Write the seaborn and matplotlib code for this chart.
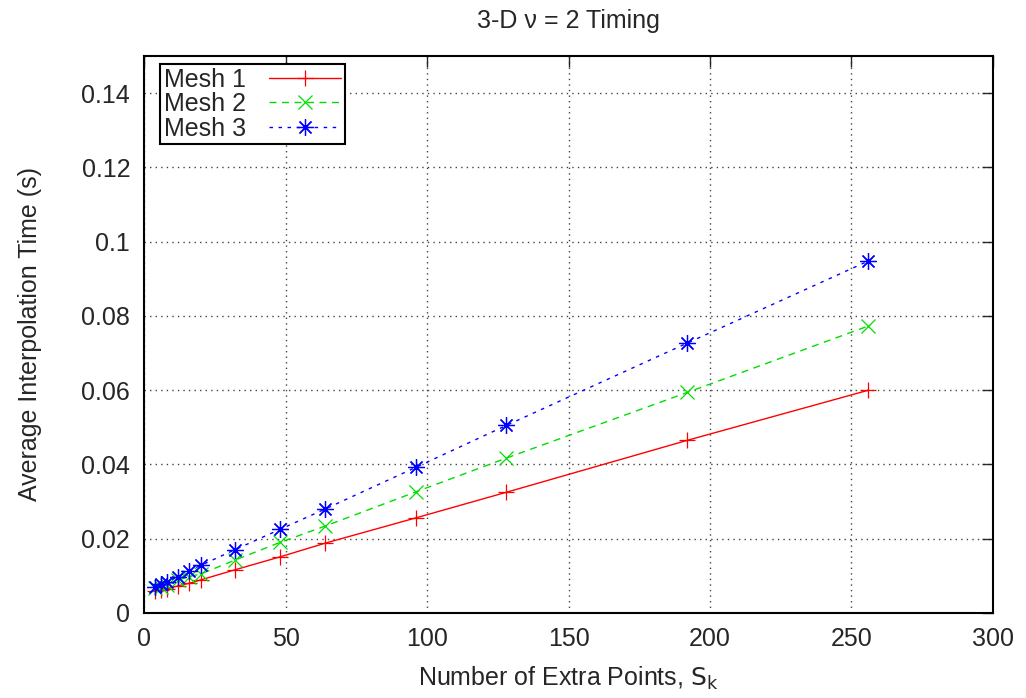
"""
Timing plot: average interpolation time vs number of extra points
"""

import pandas as pd
import seaborn as sns
import matplotlib.pyplot as plt

# data
extra_points = [4, 6, 8, 12, 16, 20, 32, 48, 64, 96, 128, 192, 256]
mesh1 = [0.0058, 0.0062, 0.0065, 0.0073, 0.0080, 0.0089, 0.0116, 0.0151, 0.0188, 0.0256, 0.0325, 0.0465, 0.0600]
mesh2 = [0.0066, 0.0070, 0.0075, 0.0089, 0.0098, 0.0105, 0.0142, 0.0190, 0.0234, 0.0326, 0.0417, 0.0594, 0.0773]
mesh3 = [0.0071, 0.0078, 0.0084, 0.0098, 0.0114, 0.0128, 0.0170, 0.0225, 0.0280, 0.0392, 0.0505, 0.0727, 0.0948]
series_names = ["Mesh 1", "Mesh 2", "Mesh 3"]


def make_frame():
    """long-form table for seaborn"""
    rows = []
    for name, vals in zip(series_names, [mesh1, mesh2, mesh3]):
        for x, y in zip(extra_points, vals):
            rows.append({"points": x, "time": y, "mesh": name})
    return pd.DataFrame(rows)


def data_vis(data):
    """draws the timing chart"""
    sns.set_style("white")
    fams = ['Liberation Sans Narrow', 'Liberation Sans', 'DejaVu Sans']
    plt.rcParams['font.family'] = fams
    plt.rcParams['mathtext.fontset'] = 'custom'
    plt.rcParams['mathtext.rm'] = 'Liberation Sans Narrow'
    plt.rcParams['mathtext.it'] = 'Liberation Sans Narrow'
    fs = 18

    fig = plt.figure(figsize=(10.26, 6.98), dpi=100)
    ax = fig.add_axes([0.1404, 0.1218, 0.8274, 0.798])

    styles = {
        "Mesh 1": dict(color="#ff0000", marker="+", ls="-", ms=12),
        "Mesh 2": dict(color="#00dd00", marker="x", ls=(0, (5, 4)), ms=10),
        "Mesh 3": dict(color="#0000ff", marker=(8, 2, 0), ls=(0, (2.5, 4)), ms=12),
    }
    for name in series_names:
        st = styles[name]
        sns.lineplot(data=data[data["mesh"] == name], x="points", y="time",
                     ax=ax, label=name, color=st["color"], marker=st["marker"],
                     linestyle=st["ls"], markersize=st["ms"], linewidth=1,
                     markeredgewidth=0.9, markeredgecolor=st["color"])

    ax.set_xlim(0, 300)
    ax.set_ylim(0, 0.15)
    ax.set_xticks(range(0, 301, 50))
    ax.set_yticks([0, 0.02, 0.04, 0.06, 0.08, 0.1, 0.12, 0.14])
    ax.set_yticklabels(["0", "0.02", "0.04", "0.06", "0.08", "0.1", "0.12", "0.14"])
    ax.grid(True, linestyle=(0, (1, 3)), color="#444444", linewidth=1)
    ax.tick_params(direction="in", top=True, right=True, length=8, width=1,
                   labelsize=fs, pad=10)
    for sp in ax.spines.values():
        sp.set_linewidth(1.5)
        sp.set_color("black")

    ax.set_xlabel("Number of Extra Points, $S_k$", fontsize=fs, labelpad=10)
    ax.set_ylabel("Average Interpolation Time (s)", fontsize=fs, labelpad=28)
    ax.set_title("3-D \u03bd = 2 Timing", fontsize=fs, pad=20)

    leg = ax.legend(loc="upper left", bbox_to_anchor=(0.019, 0.986),
                    markerfirst=False, fontsize=fs,
                    handlelength=2.9, borderaxespad=0, fancybox=False,
                    framealpha=1, edgecolor="black", borderpad=0.15,
                    labelspacing=0.02, handletextpad=0.9)
    leg.get_frame().set_linewidth(1.5)

    plt.savefig("out.png", dpi=100)


if __name__ == "__main__":
    my_data = make_frame()
    data_vis(my_data)
